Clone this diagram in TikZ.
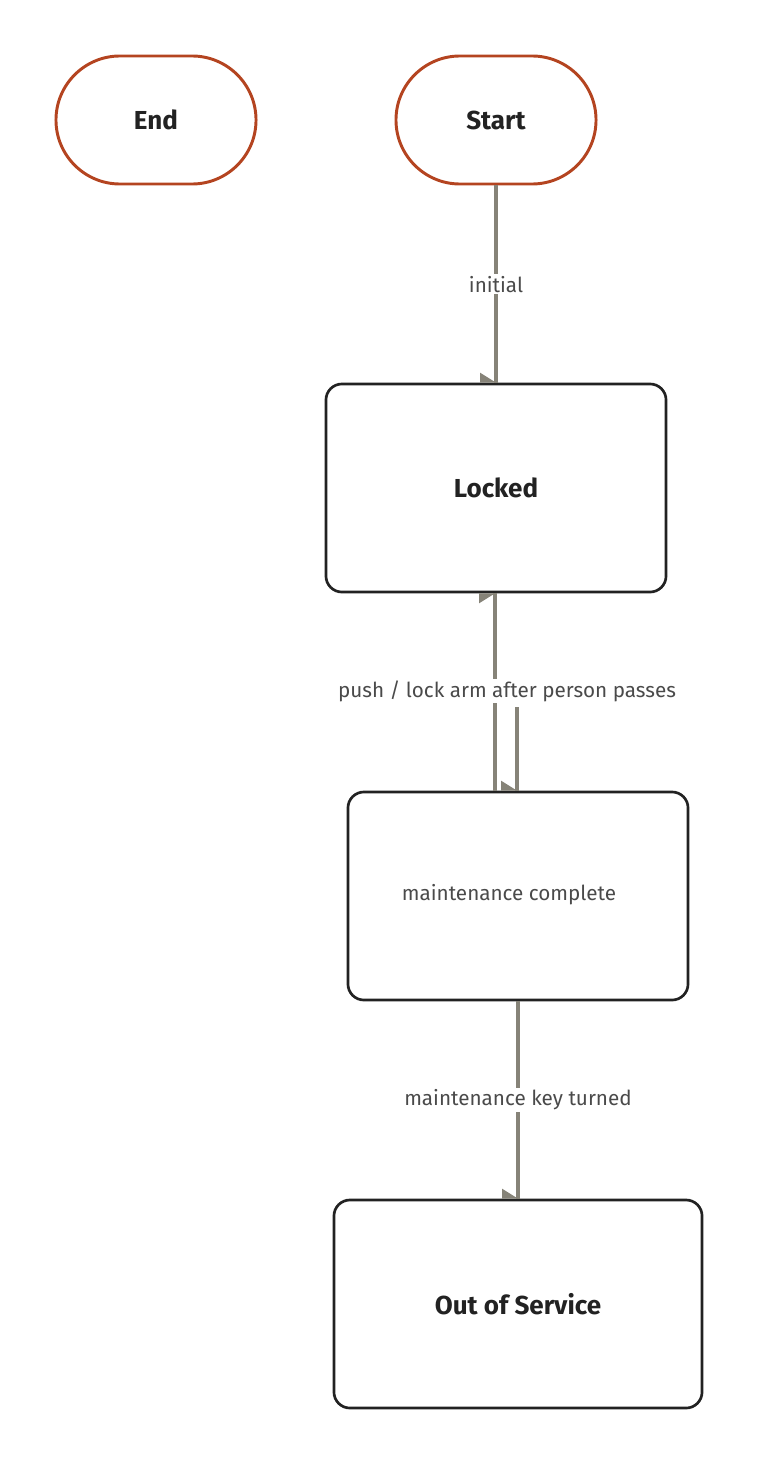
\documentclass[tikz,border=0pt]{standalone}
\usepackage{fontspec}
\setmainfont{Fira Sans}
\definecolor{termline}{RGB}{180,68,32}
\definecolor{edgegray}{RGB}{134,131,120}
\definecolor{boxline}{RGB}{34,34,34}
\definecolor{labelgray}{RGB}{74,74,74}
\def\labelfont{\fontsize{14.7}{17}\selectfont}
\def\titlefont{\fontsize{18.5}{21}\selectfont\bfseries}
\def\tipdown(#1){\fill[edgegray] (#1) -- ++(-16,0) -- ++(0,-10) -- cycle;}
\def\tipup(#1){\fill[edgegray] (#1) -- ++(-16,0) -- ++(0,10) -- cycle;}

\begin{document}
\begin{tikzpicture}[x=0.025cm,y=-0.025cm,
		terminal/.style={draw=termline,line width=2.1pt,rounded corners=1.6cm,minimum width=5cm,minimum height=3.2cm,text=boxline,font=\titlefont},
		state/.style={draw=boxline,line width=1.9pt,rounded corners=0.4cm,minimum height=5.2cm,text=boxline,font=\titlefont},
		trans/.style={draw=edgegray,line width=2.3pt},
		edgelabel/.style={fill=white,text=labelgray,font=\labelfont,inner sep=1pt}]
			\useasboundingbox (0,0) rectangle (758,1464);
			\node[terminal] (end) at (156,120) {End};
			\node[terminal] (start) at (496,120) {Start};
			\node[state,minimum width=8.5cm] (locked) at (496,488) {Locked};
			\node[state,minimum width=8.5cm] (middle) at (518,896) {};
			\node[state,minimum width=9.2cm] (outofservice) at (518,1304) {Out of Service};
			\coordinate (pushstart) at (517,707);
			\coordinate (backfrom) at ([xshift=-0.575cm]middle.north);
			\coordinate (backto) at (backfrom |- locked.south);
			\coordinate (pushto) at ([xshift=-0.025cm]middle.north);
			\draw[trans] (start) -- node[edgelabel] (initial) {initial} (locked);
			\draw[trans] (backfrom) -- (backto);
			\draw[trans] (pushstart) -- (pushto);
			\node[edgelabel] (pushlabel) at (507,691) {push / lock arm after person passes};
			\node[edgelabel] (complete) at (509,895) {maintenance complete};
			\draw[trans] (middle) -- node[edgelabel] (keyturned) {maintenance key turned} (outofservice);
			% half arrow heads
			\tipdown(locked.north)
			\tipup(backto)
			\tipdown(pushto)
			\tipdown(outofservice.north)
		\end{tikzpicture}
\end{document}
